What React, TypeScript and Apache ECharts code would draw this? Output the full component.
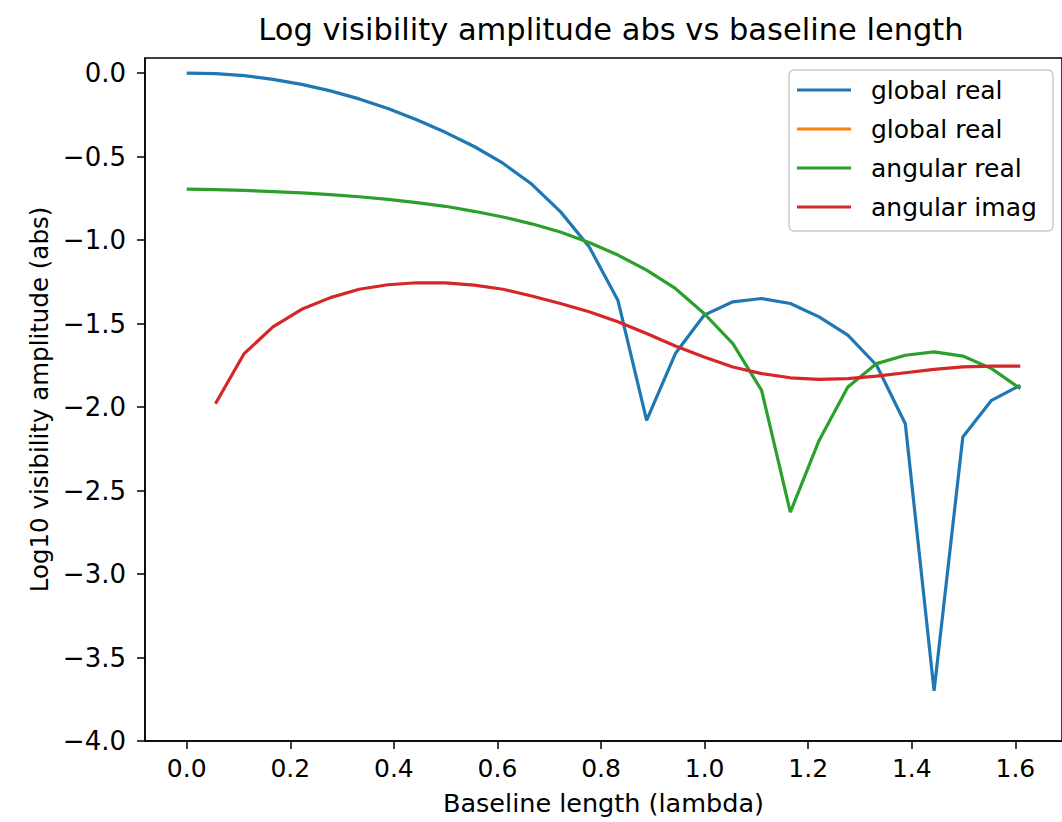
import React, { useEffect, useRef } from "react";
import * as echarts from "echarts";

const baselines = [
  0, 0.0555, 0.111, 0.1665, 0.222, 0.2775, 0.333, 0.3885, 0.444, 0.4995,
  0.555, 0.6105, 0.666, 0.7215, 0.777, 0.8325, 0.888, 0.9435, 0.999, 1.0545,
  1.11, 1.1655, 1.221, 1.2765, 1.332, 1.3875, 1.443, 1.4985, 1.554, 1.6095,
];

const globalReal = [
  0.0, -0.004, -0.016, -0.038, -0.068, -0.107, -0.155, -0.213, -0.28, -0.355,
  -0.44, -0.54, -0.665, -0.83, -1.04, -1.36, -2.08, -1.68, -1.45, -1.37,
  -1.35, -1.38, -1.46, -1.57, -1.75, -2.1, -3.7, -2.18, -1.96, -1.87,
];

// second "global real" entry: nothing finite to draw (log10 of zero)
const globalImag: (number | null)[] = [];

const angularReal = [
  -0.695, -0.698, -0.703, -0.71, -0.718, -0.728, -0.741, -0.757, -0.776, -0.798,
  -0.828, -0.862, -0.903, -0.952, -1.015, -1.09, -1.18, -1.29, -1.44, -1.62,
  -1.9, -2.63, -2.2, -1.88, -1.74, -1.69, -1.67, -1.695, -1.77, -1.89,
];

const angularImag: (number | null)[] = [
  null, -1.98, -1.68, -1.52, -1.415, -1.345, -1.295, -1.268, -1.256, -1.257,
  -1.27, -1.295, -1.335, -1.38, -1.43, -1.49, -1.56, -1.635, -1.7, -1.76,
  -1.8, -1.825, -1.835, -1.83, -1.815, -1.795, -1.775, -1.76, -1.755, -1.755,
];

const xTicks = [0, 0.2, 0.4, 0.6, 0.8, 1.0, 1.2, 1.4, 1.6];
const yTicks = [0, -0.5, -1.0, -1.5, -2.0, -2.5, -3.0, -3.5, -4.0];

const seriesNames = ["global real", "global real", "angular real", "angular imag"];
const seriesColors = ["#1f77b4", "#ff7f0e", "#2ca02c", "#d62728"];
const seriesValues = [globalReal, globalImag, angularReal, angularImag];

const FONT = "DejaVu Sans";

export default function App() {
  const ref = useRef<HTMLDivElement>(null);

  useEffect(() => {
    if (!ref.current) return;
    const chart = echarts.init(ref.current, null, { renderer: "svg" });

    const series = seriesValues.map((vals, si) => ({
      type: "line",
      name: seriesNames[si] + (si === 1 ? " (2)" : ""),
      data: baselines
        .map((x, i) => [x, vals[i] === undefined ? null : vals[i]])
        .filter((p) => p[1] !== null),
      showSymbol: false,
      symbol: "none",
      lineStyle: { color: seriesColors[si], width: 3.2 },
      itemStyle: { color: seriesColors[si] },
      clip: true,
      z: 2 + si,
    }));

    const legendX = 789;
    const legendY = 70;
    const rowGap = 39;
    const legendItems: any[] = [
      {
        type: "rect",
        shape: { x: legendX, y: legendY, width: 264, height: 161, r: 5 },
        style: { fill: "rgba(255,255,255,0.8)", stroke: "#cccccc", lineWidth: 1.5 },
        z: 100,
      },
    ];
    seriesNames.forEach((name, i) => {
      const cy = legendY + 20 + i * rowGap;
      legendItems.push({
        type: "line",
        shape: { x1: legendX + 8, y1: cy, x2: legendX + 62, y2: cy },
        style: { stroke: seriesColors[i], lineWidth: 3.2 },
        z: 101,
      });
      legendItems.push({
        type: "text",
        x: legendX + 82,
        y: cy,
        style: {
          text: name,
          fill: "#000",
          font: `25px "${FONT}"`,
          verticalAlign: "middle",
          align: "left",
        },
        z: 101,
      });
    });

    const fmt = (v: number) => {
      const s = Math.abs(v).toFixed(1);
      return v < -1e-9 ? "\u2212" + s : s;
    };

    chart.setOption({
      animation: false,
      backgroundColor: "#ffffff",
      title: {
        text: "Log visibility amplitude abs vs baseline length",
        left: 606,
        top: 9,
        textAlign: "center",
        textStyle: { fontFamily: FONT, fontSize: 30.5, fontWeight: "normal", color: "#000" },
      },
      grid: {
        left: 145,
        top: 58,
        width: 924,
        height: 683,
        show: true,
        borderColor: "#000",
        borderWidth: 1.5,
        backgroundColor: "transparent",
      },
      xAxis: {
        type: "value",
        min: -0.0805,
        max: 1.69,
        name: "Baseline length (lambda)",
        nameLocation: "middle",
        nameGap: 49,
        nameTextStyle: { fontFamily: FONT, fontSize: 25.5, color: "#000" },
        axisLine: { show: true, onZero: false, lineStyle: { color: "#000", width: 1.5 } },
        axisTick: {
          show: true,
          length: 8,
          customValues: xTicks,
          lineStyle: { color: "#000", width: 1.5 },
        },
        axisLabel: {
          customValues: xTicks,
          formatter: fmt,
          margin: 15,
          fontFamily: FONT,
          fontSize: 25,
          color: "#000",
        },
        splitLine: { show: false },
      },
      yAxis: {
        type: "value",
        min: -4.0,
        max: 0.09,
        name: "Log10 visibility amplitude (abs)",
        nameLocation: "middle",
        nameGap: 92,
        nameTextStyle: { fontFamily: FONT, fontSize: 24.5, color: "#000" },
        axisLine: { show: true, onZero: false, lineStyle: { color: "#000", width: 1.5 } },
        axisTick: {
          show: true,
          length: 8,
          customValues: yTicks,
          lineStyle: { color: "#000", width: 1.5 },
        },
        axisLabel: {
          customValues: yTicks,
          formatter: fmt,
          margin: 19,
          fontFamily: FONT,
          fontSize: 26,
          color: "#000",
        },
        splitLine: { show: false },
      },
      series,
      graphic: legendItems,
    });

    return () => chart.dispose();
  }, []);

  return (
    <div
      ref={ref}
      style={{ position: "fixed", left: 0, top: 0, width: 1062, height: 822, background: "#fff" }}
    />
  );
}
